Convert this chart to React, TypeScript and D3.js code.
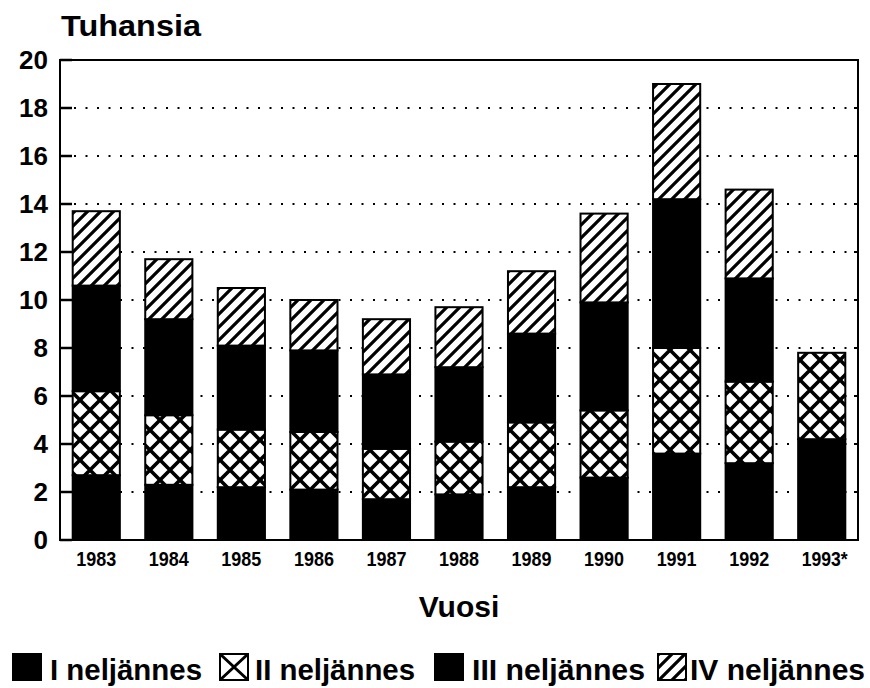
import React from 'react'
import * as d3 from 'd3'

// Quarterly values, thousands
const years = ['1983', '1984', '1985', '1986', '1987', '1988', '1989', '1990', '1991', '1992', '1993*']
const q1 = [2.7, 2.3, 2.2, 2.1, 1.7, 1.9, 2.2, 2.6, 3.6, 3.2, 4.2]
const q2 = [3.5, 2.9, 2.4, 2.4, 2.1, 2.2, 2.7, 2.8, 4.4, 3.4, 3.6]
const q3 = [4.4, 4.0, 3.5, 3.4, 3.1, 3.1, 3.7, 4.5, 6.2, 4.3, 0]
const q4 = [3.1, 2.5, 2.4, 2.1, 2.3, 2.5, 2.6, 3.7, 4.8, 3.7, 0]
const quarterKeys = ['q1', 'q2', 'q3', 'q4']
const legendLabels = ['I neljännes', 'II neljännes', 'III neljännes', 'IV neljännes']
const yTicks = [0, 2, 4, 6, 8, 10, 12, 14, 16, 18, 20]

const W = 870
const H = 688
const margin = { top: 60, right: 12, bottom: 148, left: 60 }
const FONT = "'Liberation Sans', Arial, Helvetica, sans-serif"

const fills: Record<string, string> = {
  q1: '#000',
  q2: 'url(#cross)',
  q3: '#000',
  q4: 'url(#diag)',
}

export default function App() {
  const x0 = margin.left
  const x1 = W - margin.right
  const y0 = H - margin.bottom
  const y1 = margin.top

  const x = d3.scaleBand<string>().domain(years).range([x0, x1]).paddingInner(0.35).paddingOuter(0.175)
  const y = d3.scaleLinear().domain([0, 20]).range([y0, y1])

  const rows = years.map((yr, i) => ({ year: yr, q1: q1[i], q2: q2[i], q3: q3[i], q4: q4[i] }))
  const series = d3.stack<any>().keys(quarterKeys)(rows)

  // legend positions (box x, text x, text length)
  const legendBoxes = [13, 220, 435, 658]
  const legendText = [50, 255, 472, 690]
  const legendLen = [152, 160, 173, 175]

  return (
    <svg width={W} height={H} style={{ position: 'absolute', left: 0, top: 0, background: '#fff' }} fontFamily={FONT}>
      <defs>
        <pattern id="cross" patternUnits="userSpaceOnUse" width={20} height={20}>
          <rect width={20} height={20} fill="#fff" />
          <path d="M0,0L20,20M20,0L0,20" stroke="#000" strokeWidth={3.6} />
        </pattern>
        <pattern id="diag" patternUnits="userSpaceOnUse" width={13} height={13}>
          <rect width={13} height={13} fill="#fff" />
          <path d="M0,13L13,0M-3,3L3,-3M10,16L16,10" stroke="#000" strokeWidth={3.2} />
        </pattern>
      </defs>

      <text x={61} y={36} fontSize={29} fontWeight="bold" textLength={140} lengthAdjust="spacingAndGlyphs">Tuhansia</text>

      {/* gridlines */}
      {yTicks.filter(t => t > 0 && t < 20).map(t => (
        <line key={'g' + t} x1={x0 + 14} x2={x1 - 4} y1={y(t)} y2={y(t)}
          stroke="#000" strokeWidth={2} strokeDasharray="2 9.5" />
      ))}

      {/* bars */}
      {series.map(s => (
        <g key={s.key}>
          {s.map((d, i) => d[1] - d[0] > 0 ? (
            <rect key={i} x={x(years[i])} width={x.bandwidth()}
              y={y(d[1])} height={y(d[0]) - y(d[1])}
              fill={fills[s.key]} stroke="#000" strokeWidth={2} />
          ) : null)}
        </g>
      ))}

      {/* frame */}
      <rect x={x0} y={y1} width={x1 - x0} height={y0 - y1} fill="none" stroke="#000" strokeWidth={2} />

      {/* y ticks */}
      {yTicks.map(t => (
        <g key={'t' + t}>
          <line x1={x0} x2={x0 + 12} y1={y(t)} y2={y(t)} stroke="#000" strokeWidth={2.5} />
          <line x1={x1 - 4} x2={x1} y1={y(t)} y2={y(t)} stroke="#000" strokeWidth={2} />
          <text x={48} y={y(t)} dy="0.36em" textAnchor="end" fontSize={26} fontWeight="bold">{t}</text>
        </g>
      ))}

      {/* x labels */}
      {years.map(yr => (
        <text key={yr} x={(x(yr) as number) + x.bandwidth() / 2 + (yr.endsWith('*') ? 3 : 0)} y={566}
          textAnchor="middle" fontSize={20} fontWeight="bold"
          textLength={yr.endsWith('*') ? 46 : 40} lengthAdjust="spacingAndGlyphs">{yr}</text>
      ))}

      <text x={(x0 + x1) / 2} y={617} textAnchor="middle" fontSize={30} fontWeight="bold">Vuosi</text>

      {/* legend */}
      {quarterKeys.map((k, i) => (
        <g key={'l' + k}>
          {k === 'q2' ? (
            <g>
              <rect x={legendBoxes[i]} y={654} width={28} height={26} fill="#fff" stroke="#000" strokeWidth={2} />
              <path d={`M${legendBoxes[i]},654L${legendBoxes[i] + 28},680M${legendBoxes[i] + 28},654L${legendBoxes[i]},680`} stroke="#000" strokeWidth={3} />
            </g>
          ) : (
            <rect x={legendBoxes[i]} y={654} width={28} height={26} fill={fills[k]} stroke="#000" strokeWidth={2} />
          )}
          <text x={legendText[i]} y={680} fontSize={30} fontWeight="bold"
            textLength={legendLen[i]} lengthAdjust="spacingAndGlyphs">{legendLabels[i]}</text>
        </g>
      ))}
    </svg>
  )
}
